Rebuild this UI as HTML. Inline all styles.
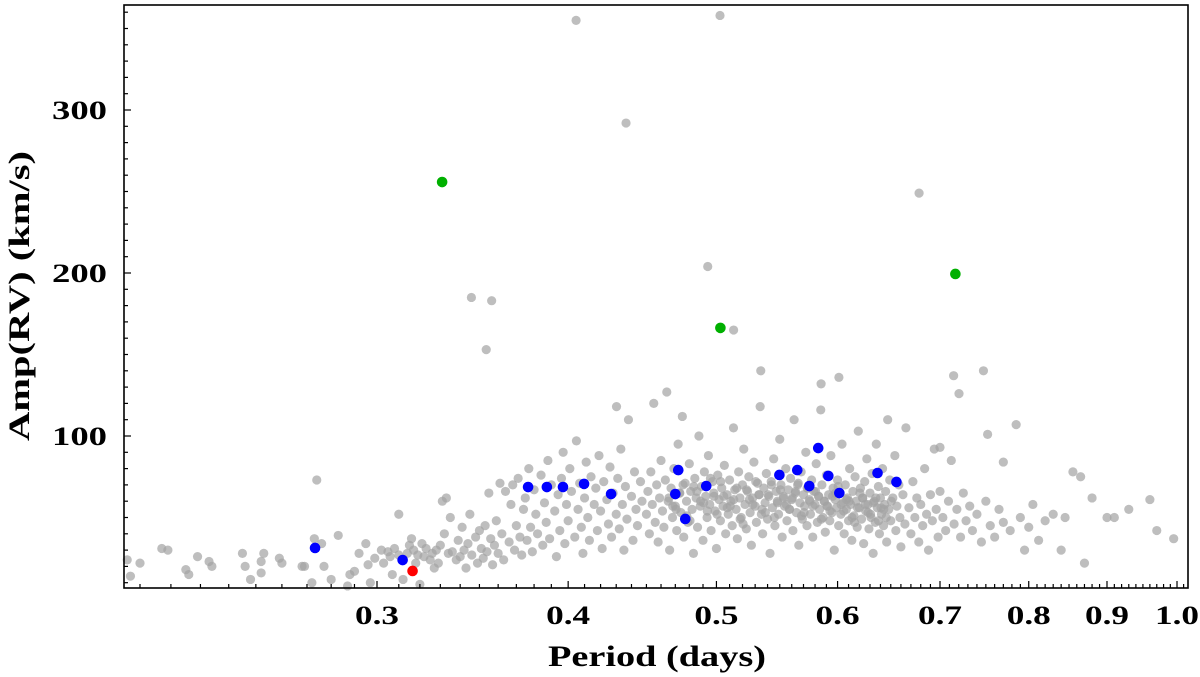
<!DOCTYPE html>
<html>
<head>
<meta charset="utf-8">
<style>
html,body{margin:0;padding:0;background:#fff;}
svg{display:block;}
text{font-family:"Liberation Serif",serif;font-weight:bold;fill:#000;}
</style>
</head>
<body>
<svg id="chart" width="1200" height="677" viewBox="0 0 1200 677" xmlns="http://www.w3.org/2000/svg">
<g id="grayLayer"></g>
<g id="colorLayer"></g>
<g id="axes"></g>
<rect x="124" y="5" width="1064" height="583" fill="none" stroke="#000" stroke-width="1.6"/>
<text x="657" y="666" font-size="30" text-anchor="middle" textLength="218" lengthAdjust="spacingAndGlyphs">Period (days)</text>
<text x="0" y="0" font-size="30" text-anchor="middle" textLength="290" lengthAdjust="spacingAndGlyphs" transform="translate(29,296) rotate(-90)">Amp(RV) (km/s)</text>
</svg>
<script>
// ---- data ----
const xTickValues = [0.3,0.4,0.5,0.6,0.7,0.8,0.9,1.0];
const xTickLabels = ["0.3","0.4","0.5","0.6","0.7","0.8","0.9","1.0"];
const yTickValues = [100,200,300];
const yTickLabels = ["100","200","300"];

const bluePeriod = [0.2733,0.3118,0.3766,0.3874,0.3969,0.4097,0.4267,0.4700,0.4721,0.4771,0.4924,0.5497,0.5647,0.5750,0.5828,0.5917,0.6016,0.6372,0.6556];
const blueAmp    = [31.3,23.9,68.7,68.7,68.7,70.6,64.4,64.4,79.1,49.1,69.3,76.1,79.1,69.3,92.6,75.5,65.0,77.3,71.8];
const greenPeriod = [0.3309,0.5030,0.7164];
const greenAmp    = [255.8,166.3,199.4];
const redPeriod = [0.3165];
const redAmp    = [17.2];

const grayPeriod = [
0.206,0.207,0.210,0.217,0.219,0.225,0.226,0.229,0.233,0.234,0.245,0.246,0.248,0.252,0.252,0.253,0.259,0.260,0.268,0.269,0.272,0.273,0.274,0.276,0.277,0.283,0.280,0.287,0.288,0.290,0.292,0.295,0.296,0.299,0.297,
0.302,0.303,0.305,0.306,0.307,0.308,0.310,0.310,0.312,0.314,0.315,0.316,0.317,0.318,0.319,0.320,0.321,0.322,0.323,0.325,0.326,0.327,0.328,0.329,0.330,0.331,0.332,0.333,0.334,0.335,0.336,0.338,0.339,0.340,0.341,0.342,0.343,0.344,0.345,0.346,0.348,0.349,0.350,0.351,0.352,0.353,0.354,0.355,0.356,0.357,0.358,0.359,0.360,0.361,0.362,0.363,0.364,
0.366,0.367,0.368,0.369,0.370,0.371,0.372,0.373,0.374,0.375,0.376,0.377,0.378,0.379,0.380,0.381,0.382,0.384,0.385,0.386,0.387,0.388,0.389,0.390,0.392,0.393,0.394,0.395,0.396,0.397,0.398,0.399,0.400,0.401,0.402,0.404,0.405,0.406,0.407,0.408,0.409,0.410,0.411,0.412,0.413,0.414,0.416,0.417,0.418,0.419,0.420,0.421,0.422,0.424,0.425,0.426,0.427,0.428,0.430,0.431,0.432,0.433,0.434,0.435,0.436,0.437,0.438,0.440,0.441,0.442,0.443,0.444,0.446,0.447,
0.450,0.451,0.452,0.453,0.454,0.455,0.456,0.457,0.458,0.459,0.460,0.461,0.462,0.463,0.464,0.465,0.466,0.467,0.468,0.469,0.470,0.471,0.472,0.473,0.474,0.475,0.476,0.477,0.478,0.479,0.480,0.481,0.482,0.483,0.484,0.485,0.486,0.487,0.488,0.489,0.490,0.491,0.492,0.493,0.494,0.495,0.496,0.497,0.498,0.499,0.500,0.501,0.502,0.503,0.504,0.505,0.506,0.507,0.508,0.509,0.510,0.511,0.512,0.513,0.514,0.515,0.516,0.517,0.518,0.519,0.520,0.521,0.522,0.523,0.524,0.525,0.526,0.527,0.528,0.529,0.530,0.531,0.532,0.533,0.534,0.535,0.536,0.537,0.538,0.539,0.540,0.541,0.542,0.543,0.544,0.545,0.546,0.547,0.548,0.549,0.550,0.551,0.552,0.553,0.554,0.555,0.556,0.557,0.558,0.559,0.560,0.561,0.562,0.563,0.564,0.565,0.566,0.567,0.568,0.569,0.570,0.571,0.572,0.573,0.574,0.575,0.576,0.577,0.578,0.579,0.580,0.581,0.582,0.583,0.584,0.585,0.586,0.587,0.588,0.589,0.590,0.591,0.592,0.593,0.594,0.595,0.596,0.597,0.598,0.599,0.600,0.601,0.602,0.603,0.604,0.605,0.606,0.607,0.608,0.609,0.610,0.611,0.612,0.613,0.614,0.615,0.616,0.617,0.618,0.619,0.620,0.621,0.622,0.623,0.624,0.625,0.626,0.627,0.628,0.629,0.630,0.631,0.632,0.633,0.634,0.635,0.636,0.637,0.638,0.639,0.640,0.641,0.642,0.643,0.644,0.645,0.646,0.647,0.648,0.649,0.650,0.652,0.654,0.655,0.656,0.658,0.659,0.660,0.662,0.664,0.665,
0.668,0.670,0.672,0.674,0.676,0.678,0.680,0.682,0.684,0.686,0.688,0.690,0.692,0.694,0.696,0.698,0.700,0.703,0.706,0.709,0.712,0.715,0.718,0.722,0.725,0.728,0.732,0.735,0.740,0.745,0.750,0.755,0.760,0.765,0.770,0.778,0.785,0.790,0.795,0.800,0.805,0.812,0.820,0.830,0.840,0.855,0.865,0.870,0.880,0.900,0.910,0.930,0.960,0.970,0.995,0.845,0.770,0.752,0.700,
0.4048,0.5027,0.4364,0.3458,0.3565,0.3536,0.4935,0.5131,0.6783,0.5345,0.6012,0.7145,0.7473,0.7203,0.5853,0.4302,
0.4655,0.4705,0.4755,0.4805,0.4855,0.4905,0.4955,0.5005,0.5055,0.5105,0.5155,0.5205,0.5255,0.5305,0.5355,0.5405,0.5455,0.5505,0.5555,0.5605,0.5655,0.5705,0.5755,0.5805,0.5855,0.5905,0.5955,0.6005,0.6055,0.6105,0.6155,0.6205,0.6255,0.6305,0.6355,0.6405,0.6455,0.6505,
0.4682,0.4732,0.4782,0.4832,0.4882,0.4932,0.4982,0.5032,0.5082,0.5132,0.5182,0.5232,0.5282,0.5332,0.5382,0.5432,0.5482,0.5532,0.5582,0.5632,0.5682,0.5732,0.5782,0.5832,0.5882,0.5932,0.5982,0.6032,0.6082,0.6132,0.6182,0.6232,0.6282,0.6332,0.6382,0.6432
];
const grayAmp = [
24,14,22,31,30,18,15,26,23,20,28,20,12,23,16,28,25,22,20,20,10,37,73,34,20,39,12,8,15,17,28,34,21,25,10,
30,22,29,26,15,31,27,52,12,28,33,37,30,22,27,9,34,26,31,24,28,19,30,22,33,60,40,62,28,50,29,24,36,26,44,30,19,34,52,27,38,22,42,31,25,45,29,65,37,21,33,48,28,71,40,24,66,
35,58,70,30,45,74,38,27,55,62,36,80,44,29,67,52,40,76,33,59,47,85,37,70,54,26,64,42,74,90,34,58,48,80,66,38,97,55,71,44,28,62,84,50,36,75,58,68,42,88,54,31,72,61,46,81,38,65,52,74,43,92,58,30,69,49,110,63,36,78,55,45,72,60,
52,66,40,78,58,120,47,70,35,62,85,54,44,73,127,60,30,68,50,80,57,42,95,65,53,112,38,71,60,47,83,66,55,28,74,62,44,100,57,69,36,78,63,50,88,58,42,72,65,54,31,76,61,48,68,57,82,40,64,52,73,60,45,105,67,55,37,78,62,50,70,92,58,43,66,75,53,33,62,84,57,47,71,64,118,52,40,68,59,77,49,63,28,72,56,86,45,66,60,52,98,70,38,63,57,80,48,67,55,74,61,42,110,65,53,70,33,59,78,49,64,57,90,45,68,61,52,73,38,66,58,83,47,63,55,116,70,50,60,41,76,57,64,48,88,53,68,30,61,56,73,45,65,52,95,59,40,70,55,62,48,80,58,36,66,51,75,60,44,103,56,68,49,62,34,72,54,86,58,43,65,50,77,28,60,47,95,56,69,40,62,52,80,45,58,66,35,110,55,73,48,62,88,42,57,70,50,32,64,46,105,
56,40,72,50,62,35,58,45,80,52,30,64,48,92,55,38,66,50,42,60,85,46,55,38,65,48,57,42,52,35,60,45,38,55,47,42,107,50,30,44,58,36,48,52,30,78,75,22,62,50,50,55,61,42,37,50,84,101,93,
355,358,292,185,183,153,204,165,249,140,136,137,140,126,132,118,
62,55,70,48,66,59,74,52,63,57,68,46,61,72,55,64,50,67,58,62,71,53,60,66,49,57,63,69,54,60,47,65,58,52,62,56,50,60,
57,65,51,69,60,54,63,72,56,61,49,67,58,64,53,70,59,62,55,66,51,68,57,63,60,54,65,58,61,50,56,62,53,59,48,55
];

// ---- axes functions ----
const X0 = 124, X1 = 1188, Y0 = 5, Y1 = 588;
const PX_PER_DECADE = 1530, P_REF = 0.3, PX_REF = 377;
function xScale(p){ return PX_REF + Math.log10(p / P_REF) * PX_PER_DECADE; }
function yScale(a){ return 436 - (a - 100) * 1.63; }

const NS = "http://www.w3.org/2000/svg";
function mk(tag, attrs, parent){
  const el = document.createElementNS(NS, tag);
  for (const k in attrs) el.setAttribute(k, attrs[k]);
  parent.appendChild(el);
  return el;
}

const gl = document.getElementById('grayLayer');
for (let i = 0; i < grayPeriod.length; i++){
  const c = mk('circle', {cx: xScale(grayPeriod[i]), cy: yScale(grayAmp[i]), r: 4.6, fill: '#a3a3a3', 'fill-opacity': 0.7}, gl);
  
  
}
const cl = document.getElementById('colorLayer');
function drawSet(ps, as, color, name){
  for (let i = 0; i < ps.length; i++){
    const c = mk('circle', {cx: xScale(ps[i]), cy: yScale(as[i]), r: 5.3, fill: color}, cl);
    
    
  }
}
drawSet(bluePeriod, blueAmp, '#0000ff', 'blue-point');
drawSet(greenPeriod, greenAmp, '#00b000', 'green-point');
drawSet(redPeriod, redAmp, '#ff0000', 'red-point');

const ax = document.getElementById('axes');
for (let k = 21; k <= 101; k++){
  const p = k / 100;
  const x = xScale(p);
  if (x < X0 || x > X1) continue;
  const major = (k % 10 === 0);
  const len = major ? 7 : 4;
  const t = mk('line', {x1: x, x2: x, y1: Y1, y2: Y1 - len, stroke: '#000', 'stroke-width': 1.2}, ax);
  
  
}
xTickValues.forEach((v, i) => {
  const t = mk('text', {x: xScale(v), y: 624, 'font-size': 26, 'text-anchor': 'middle', textLength: 44, lengthAdjust: 'spacingAndGlyphs'}, ax);
  t.textContent = xTickLabels[i];
  
  
});
for (let a = 10; a <= 360; a += 10){
  const y = yScale(a);
  if (y < Y0 || y > Y1) continue;
  const major = (a % 100 === 0);
  const len = major ? 7 : 4;
  const t = mk('line', {x1: X0, x2: X0 + len, y1: y, y2: y, stroke: '#000', 'stroke-width': 1.2}, ax);
  
  
}
yTickValues.forEach((v, i) => {
  const t = mk('text', {x: 107, y: yScale(v) + 9, 'font-size': 26, 'text-anchor': 'end', textLength: 55, lengthAdjust: 'spacingAndGlyphs'}, ax);
  t.textContent = yTickLabels[i];
  
  
});
</script>
</body>
</html>
